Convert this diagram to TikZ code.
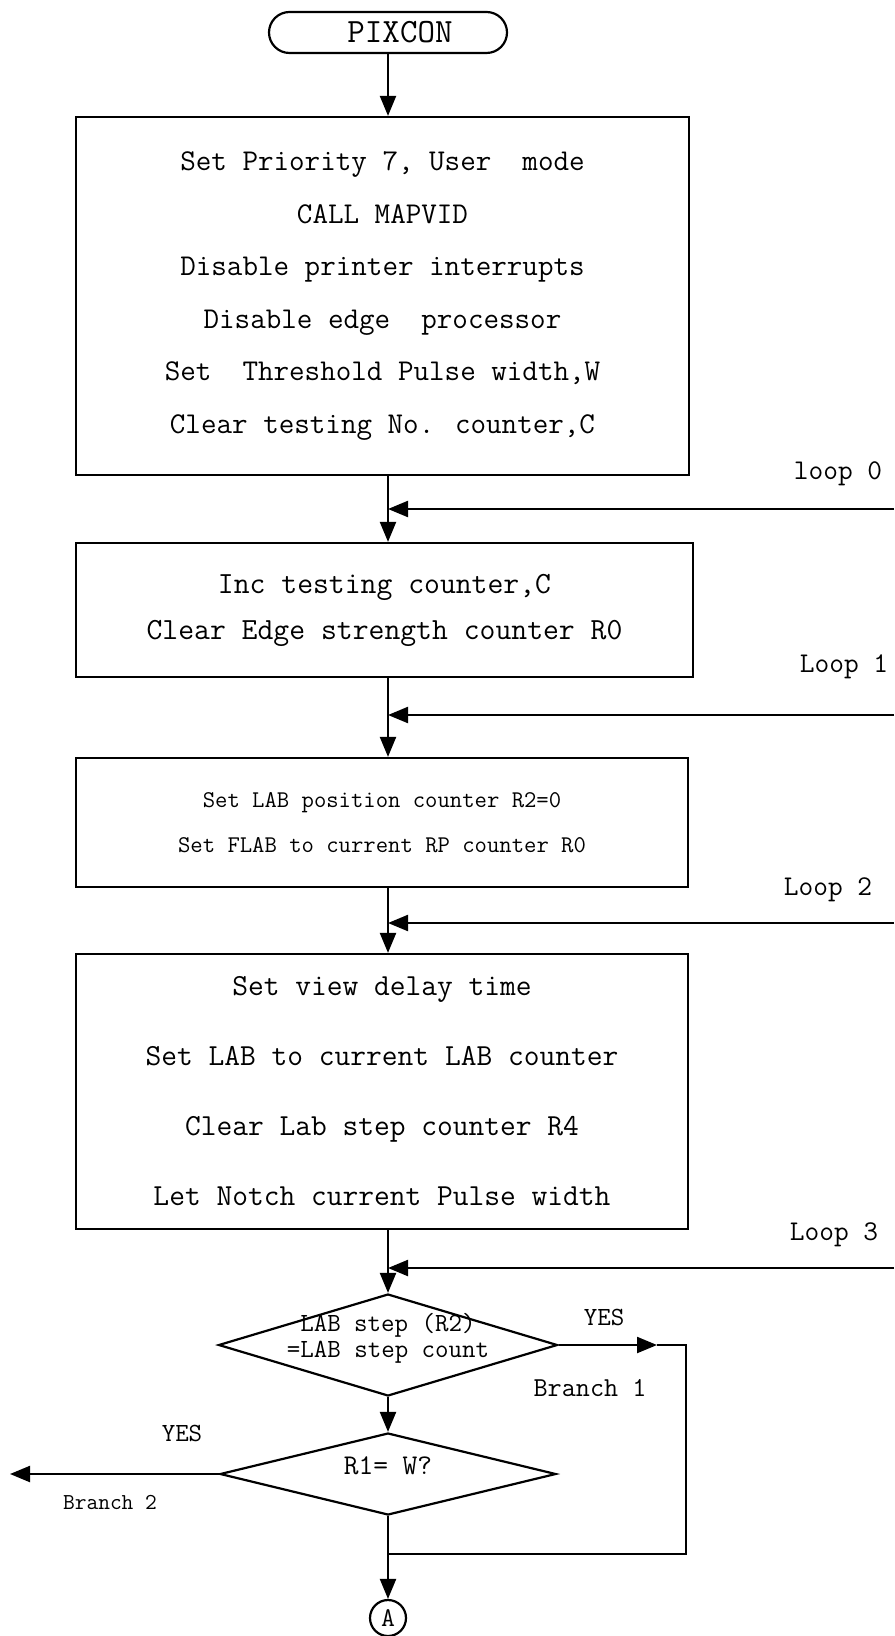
\documentclass[tikz,border=0pt]{standalone}
\usepackage{fontspec}
\usetikzlibrary{shapes.geometric,shapes.misc,arrows.meta}
\begin{document}
\begin{tikzpicture}[x=0.5pt,y=-0.5pt,line width=1.1pt,
  arr/.style={-{Triangle[length=10pt,width=8pt]}},
  txt/.style={font=\ttfamily\fontsize{#1}{#1}\selectfont},
  proc/.style={draw,rectangle,inner sep=0pt,align=center},
  term/.style={draw,rounded rectangle,inner sep=0pt,minimum width=119pt,minimum height=20.5pt,font=\ttfamily\fontsize{17}{17}\selectfont},
  decide/.style={draw,diamond,inner sep=0pt,align=center},
  conn/.style={draw,circle,inner sep=0pt,minimum size=18pt,font=\ttfamily\fontsize{13.5}{13.5}\selectfont},
  lbl/.style={inner sep=0pt,anchor=center}]
\useasboundingbox (0,0) rectangle (894,1636);
\fill[white] (0,0) rectangle (894,1636);

% flow nodes
\node[term] (start) at (388,32.5) {\hspace*{12pt}PIXCON};
\node[proc,minimum width=306.5pt,minimum height=179pt,
      font=\ttfamily\fontsize{15.1}{26.3}\selectfont] (b1) at (382.5,296)
  {Set Priority 7, User\ \ mode\\CALL MAPVID\\Disable printer interrupts\\Disable edge\ \ processor\\Set\ \ Threshold Pulse width,W\\Clear testing No. counter,C};
\node[proc,minimum width=308.5pt,minimum height=67pt,
      font=\ttfamily\fontsize{15.4}{23}\selectfont] (b2) at (384.5,610)
  {Inc testing counter,C\\Clear Edge strength counter R0};
\node[proc,minimum width=306pt,minimum height=64.5pt,
      font=\ttfamily\fontsize{12}{22.5}\selectfont] (b3) at (382,822.5)
  {Set LAB position counter R2=0\\Set FLAB to current RP counter R0};
\node[proc,minimum width=306pt,minimum height=137.5pt,
      font=\ttfamily\fontsize{15.3}{35}\selectfont] (b4) at (382,1091.5)
  {Set view delay time\\Set LAB to current LAB counter\\Clear Lab step counter R4\\Let Notch current Pulse width};
\node[decide,minimum width=169.5pt,minimum height=51pt] (d1) at (388,1345)
  {\smash{\makebox[0pt]{\ttfamily\fontsize{13.1}{13}\selectfont\begin{tabular}{@{}c@{}}LAB step (R2)\\=LAB step count\end{tabular}}}};
\node[decide,minimum width=168pt,minimum height=41pt] (d2) at (388,1474)
  {\smash{\makebox[0pt]{\ttfamily\fontsize{14.3}{14.3}\selectfont R1= W?}}};
\node[conn] (A) at (388,1618) {A};

% loop entry points at the right margin
\coordinate (l0) at (894,509);
\coordinate (l1) at (894,715);
\coordinate (l2) at (894,923);
\coordinate (l3) at (894,1268);
\coordinate (b1tip) at (657,1345);
\coordinate (rt) at (686,1345);
\coordinate (join) at (388,1554);
\coordinate (br2) at (10,1474);

% main flow
\draw[arr] (start.south) -- (start.south |- b1.north);
\draw[arr] (start.south |- b1.south) -- (start.south |- b2.north);
\draw[arr] (start.south |- b2.south) -- (start.south |- b3.north);
\draw[arr] (start.south |- b3.south) -- (start.south |- b4.north);
\draw[arr] (start.south |- b4.south) -- (d1.north);
\draw[arr] (d1.south) -- (d2.north);
\draw[arr] (d2.south) -- (A.north);

% loop returns
\draw[arr] (l0) -- (l0 -| start.south);
\draw[arr] (l1) -- (l1 -| start.south);
\draw[arr] (l2) -- (l2 -| start.south);
\draw[arr] (l3) -- (l3 -| start.south);

% branches
\draw[arr] (d1.east) -- (b1tip);
\draw (b1tip) -- (rt) |- (join);
\draw[arr] (d2.west) -- (br2);

% labels
\node[lbl,txt=14.3] at (838,474) {loop 0};
\node[lbl,txt=14.3] at (844,667) {Loop 1};
\node[lbl,txt=14.3] at (828,890) {Loop 2};
\node[lbl,txt=14.3] at (834,1235) {Loop 3};
\node[lbl,txt=13.1] at (604,1317) {YES};
\node[lbl,txt=13.7] at (590,1388) {Branch 1};
\node[lbl,txt=13.1] at (182,1433) {YES};
\node[lbl,txt=11.4] at (110,1502) {Branch 2};
\end{tikzpicture}
\end{document}
